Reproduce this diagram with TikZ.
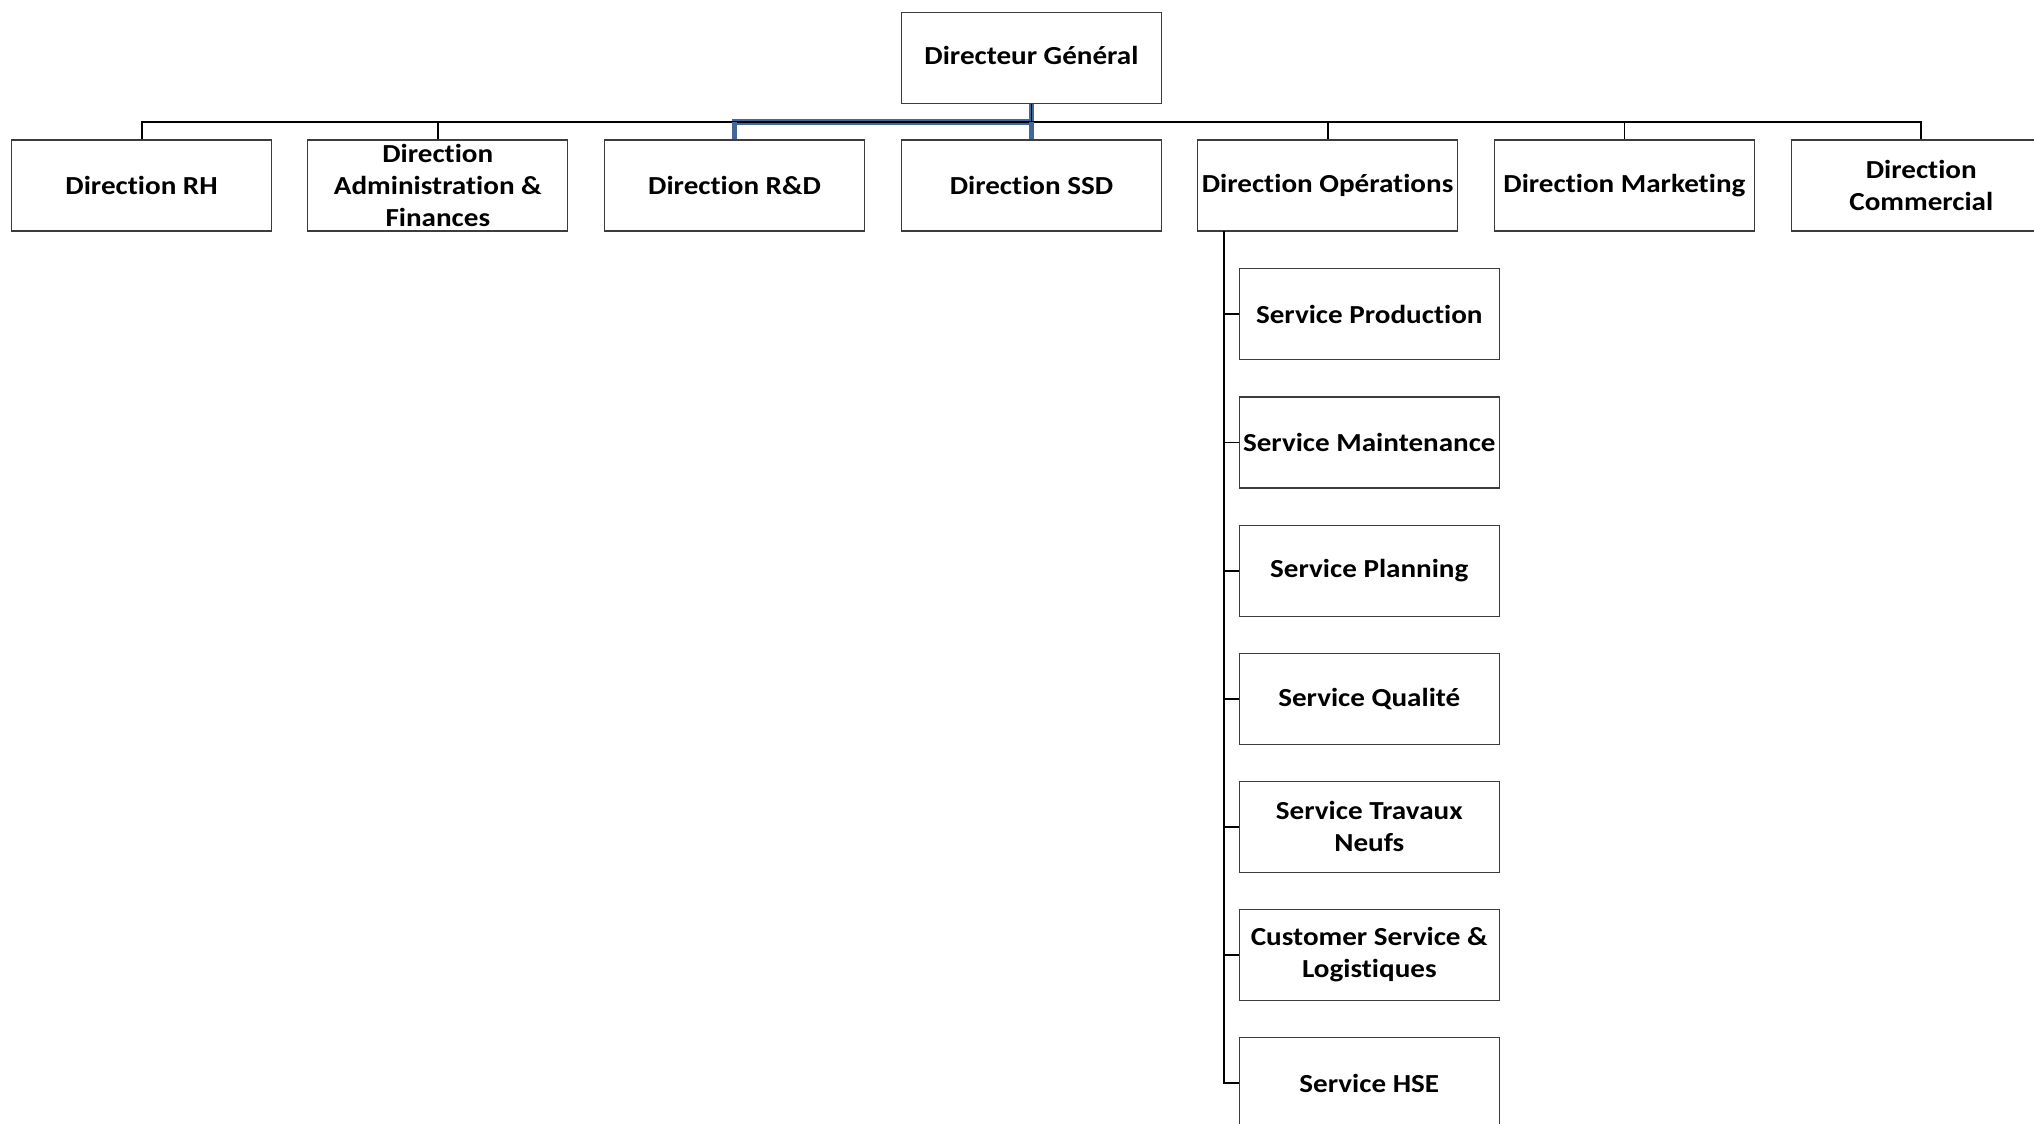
\documentclass[tikz,border=0pt]{standalone}
\usepackage{fontspec}
\setmainfont{Carlito}[FakeStretch=1.12, Ligatures={NoCommon}, RawFeature={-liga;-dlig}]
\definecolor{selblue}{RGB}{66,104,154}
\definecolor{boxline}{RGB}{60,60,60}
\tikzset{
  orgbox/.style={draw=boxline, line width=0.6pt, fill=white, minimum width=130pt,
    minimum height=45.5pt, inner sep=0pt, align=center,
    font=\fontsize{13pt}{15.9pt}\selectfont\bfseries},
  boxtext/.style={inner sep=0pt, align=center,
    font=\fontsize{13pt}{15.9pt}\selectfont\bfseries},
  conn/.style={draw=black, line width=0.9pt},
  highlight/.style={draw=selblue, line width=2.6pt},
}
\begin{document}
\begin{tikzpicture}[x=0.5pt, y=-0.5pt]
\useasboundingbox (0,0) rectangle (2034,1124);
\clip (0,0) rectangle (2034,1124);
\fill[white] (0,0) rectangle (2034,1124);

% general manager
\node[orgbox] (dg) at (1031.5,58.2) {};
\node[boxtext] (dgtxt) at ([yshift=1.3pt]dg.center) {Directeur Général};

% directions
\node[orgbox] (rh)  at (141.6,185.5)  {Direction RH};
\node[orgbox] (adm) at (437.8,185.5)  {};
\node[boxtext] (admtxt) at (adm) {Direction\\Administration \&\\Finances};
\node[orgbox] (rd)  at (734.6,185.5)  {Direction R\&D};
\node[orgbox] (ssd) at (1031.5,185.5) {Direction SSD};
\node[orgbox] (ops) at (1327.6,185.5) {Direction Opérations};
\node[orgbox] (mkt) at (1624.4,185.5) {Direction Marketing};
\node[orgbox] (com) at (1921.3,185.5) {Direction\\Commercial};

% services under operations
\node[orgbox] (s1) at (1369.3,314.3)  {Service Production};
\node[orgbox] (s2) at (1369.3,442.4)  {Service Maintenance};
\node[orgbox] (s3) at (1369.3,570.6)  {Service Planning};
\node[orgbox] (s4) at (1369.3,698.7)  {Service Qualité};
\node[orgbox] (s5) at (1369.3,826.8)  {Service Travaux\\Neufs};
\node[orgbox] (s6) at (1369.3,954.9)  {Customer Service \&\\Logistiques};
\node[orgbox] (s7) at (1369.3,1083.1) {Service HSE};

% bus level and the operations spine
\coordinate (bus) at (1031.5,122);
\coordinate (spine) at (1223.6,231);

% selected connectors: horizontal run under the black bus
\draw[highlight] (rd.north) |- (bus) -- (dg.south);

% tree connectors
\foreach \n in {rh,adm,rd,ssd,ops,mkt,com}
  \draw[conn] (dg.south) -- (bus) -| (\n.north);
\foreach \n in {s1,s2,s3,s4,s5,s6,s7}
  \draw[conn] (spine) |- (\n.west);

% selected stems drawn over the black ones
\draw[highlight] (rd.north) -- (rd.north |- bus);
\draw[highlight] (ssd.north) -- (bus);
\end{tikzpicture}
\end{document}
